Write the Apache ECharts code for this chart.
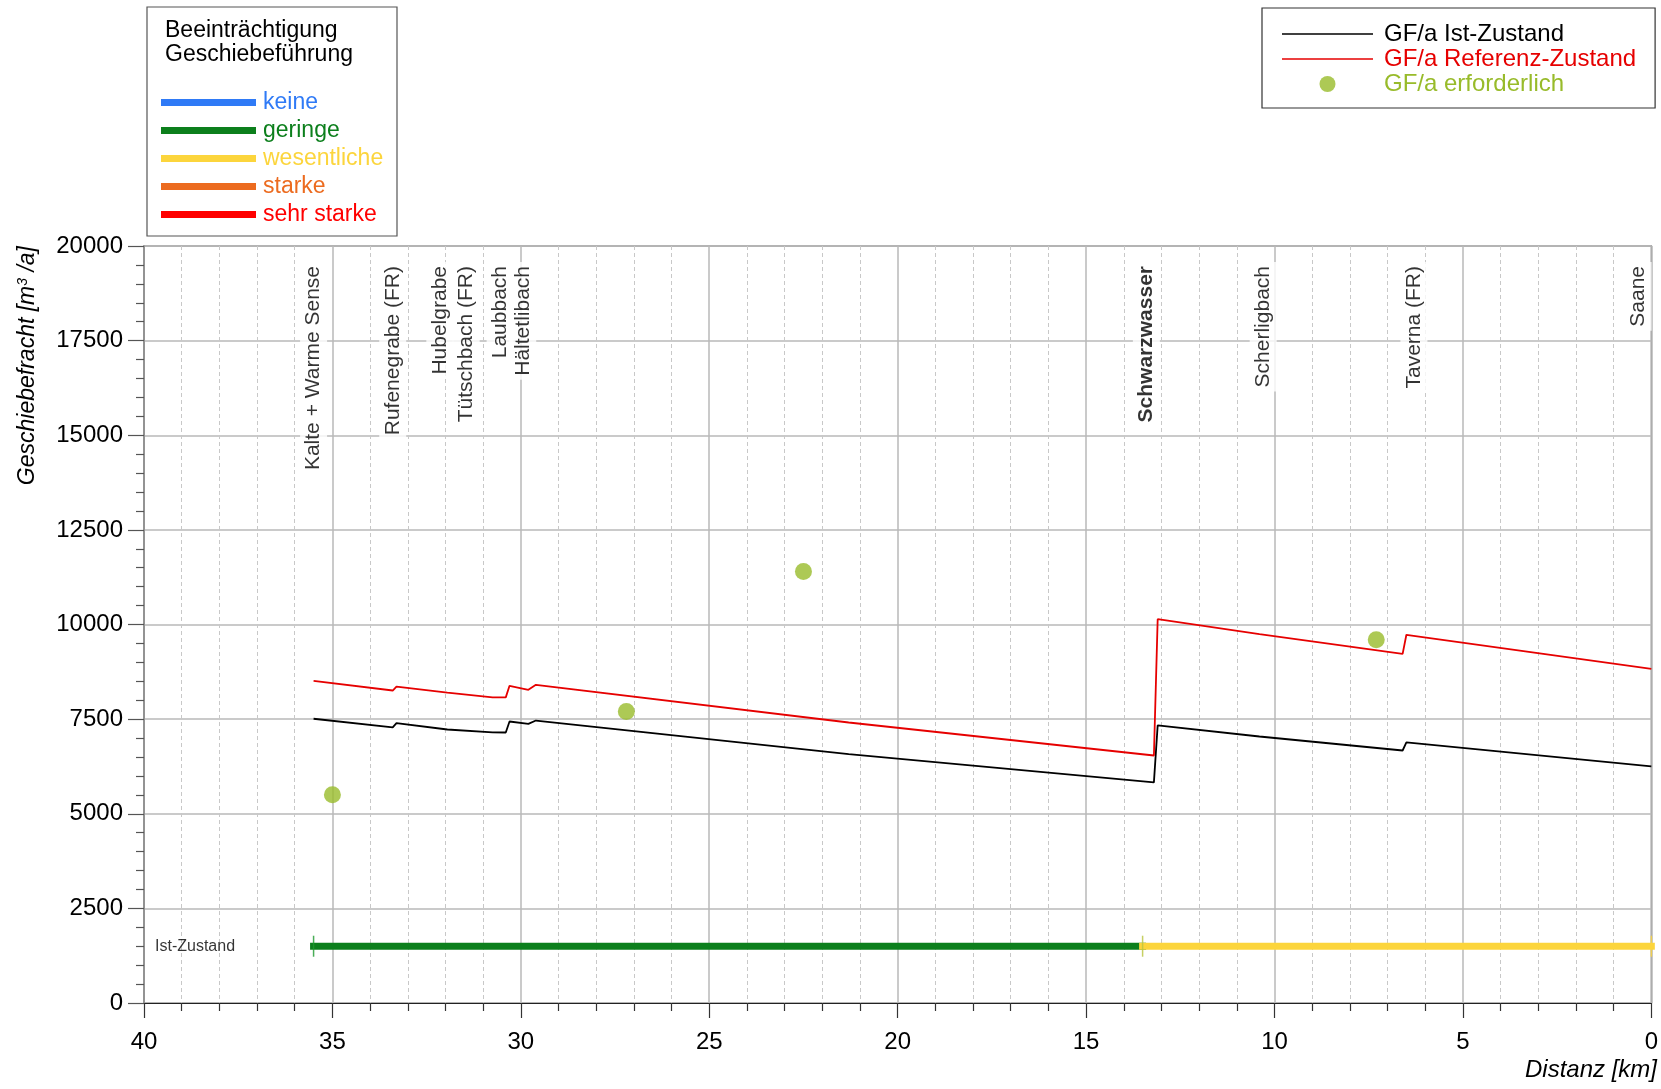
<!DOCTYPE html>
<html>
<head>
<meta charset="utf-8">
<script src="https://cdn.jsdelivr.net/npm/echarts@6/dist/echarts.min.js"></script>
<style>
  html, body { margin: 0; padding: 0; background: #fff; }
  #chart { width: 1661px; height: 1089px; }
</style>
</head>
<body>
<div id="chart"></div>
<script>
// Längsprofil Sense: Geschiebefracht pro Jahr entlang der Fliessdistanz
const FONT = '"Liberation Sans", Arial, Helvetica, sans-serif';

// Stützstellen des Profils (Distanz in km ab Mündung)
const profileKm = [35.5, 33.4, 33.3, 31.95, 31.9, 30.75, 30.7, 30.4, 30.3, 29.8, 29.6, 21.3, 13.2, 13.1, 10.4, 10.35, 6.6, 6.5, 0];
// GF/a Ist-Zustand [m3/a]
const istValues = [7510, 7280, 7395, 7226, 7263, 7150, 7183, 7146, 7437, 7376, 7463, 6576, 5830, 7335, 7041, 7070, 6671, 6883, 6250];
// GF/a Referenz-Zustand [m3/a]
const refValues = [8512, 8256, 8361, 8200, 8215, 8075, 8100, 8075, 8380, 8274, 8406, 7411, 6539, 10141, 9745, 9772, 9225, 9728, 8830];

// GF/a erforderlich
const reqKm = [35.0, 27.2, 22.5, 7.3];
const reqValues = [5500, 7700, 11400, 9600];

// Zuflüsse (Beschriftung oben)
const tributaryNames = ['Kalte + Warme Sense', 'Rufenegrabe (FR)', 'Hubelgrabe', 'Tütschbach (FR)', 'Laubbach', 'Hältetlibach', 'Schwarzwasser', 'Scherligbach', 'Taverna (FR)', 'Saane'];
const tributaryKm = [35.5, 33.4, 32.15, 31.45, 30.55, 29.95, 13.4, 10.3, 6.3, 0.35];
const mainTributary = 'Schwarzwasser';

// Beeinträchtigung Geschiebeführung, Ist-Zustand (Abschnitte)
const classNames = ['keine', 'geringe', 'wesentliche', 'starke', 'sehr starke'];
const classColors = ['#2f7af6', '#0c7f1c', '#fcd53c', '#ec6b1f', '#ff0000'];
const sectionFromKm = [35.5, 13.5];
const sectionToKm = [13.5, 0];
const sectionClass = ['geringe', 'wesentliche'];
const sectionBoundaryKm = [35.5, 13.5, 0];
const sectionBoundaryColors = ['#1d9a2e', '#b9c43c', '#fcd53c'];
const conditionRowValue = 1500;
const conditionRowLabel = 'Ist-Zustand';

// Achsen
const xMin = 0, xMax = 40, xStep = 5;
const yMin = 0, yMax = 20000, yStep = 2500;

const pairs = (xs, ys) => xs.map((x, i) => [x, ys[i]]);

// dünner Strich als Legendensymbol (Seitenverhältnis bleibt erhalten)
const LINE_ICON = 'path://M0,0H91V1.6H0Z';

const chart = echarts.init(document.getElementById('chart'), null, { renderer: 'canvas' });

const series = [];

// Klassen der Beeinträchtigung (auch für die Legende)
classNames.forEach((name, ci) => {
  const idx = sectionClass.indexOf(name);
  const data = idx >= 0 ? [[sectionFromKm[idx], conditionRowValue], [sectionToKm[idx], conditionRowValue]] : [];
  series.push({
    name: name,
    type: 'line',
    data: data,
    symbol: 'none',
    z: 3,
    lineStyle: { color: classColors[ci], width: 7, cap: 'square' },
    itemStyle: { color: classColors[ci] },
    silent: true
  });
});

// Abschnittsgrenzen
series.push({
  name: 'Abschnittsgrenzen',
  type: 'scatter',
  symbol: 'rect',
  symbolSize: [1.5, 21],
  z: 4,
  silent: true,
  data: sectionBoundaryKm.map((km, i) => ({ value: [km, conditionRowValue], itemStyle: { color: sectionBoundaryColors[i] } }))
});

// Zeilenbeschriftung "Ist-Zustand"
series.push({
  name: 'Zeile',
  type: 'scatter',
  symbolSize: 0,
  silent: true,
  data: [[xMax, conditionRowValue]],
  label: {
    show: true,
    position: 'right',
    distance: 11,
    formatter: conditionRowLabel,
    color: '#000',
    fontFamily: FONT,
    fontSize: 16
  }
});

series.push({
  name: 'GF/a Ist-Zustand',
  type: 'line',
  data: pairs(profileKm, istValues),
  symbol: 'none',
  z: 5,
  lineStyle: { color: '#000', width: 1.8 },
  itemStyle: { color: '#000' },
  silent: true
});
series.push({
  name: 'GF/a Referenz-Zustand',
  type: 'line',
  data: pairs(profileKm, refValues),
  symbol: 'none',
  z: 5,
  lineStyle: { color: '#e60000', width: 1.8 },
  itemStyle: { color: '#e60000' },
  silent: true
});
series.push({
  name: 'GF/a erforderlich',
  type: 'scatter',
  data: pairs(reqKm, reqValues),
  symbol: 'circle',
  symbolSize: 17,
  z: 6,
  itemStyle: { color: '#98bb2a' },
  silent: true
});

// Zuflussnamen, senkrecht am oberen Rand
series.push({
  name: 'Zuflüsse',
  type: 'scatter',
  symbolSize: 0,
  silent: true,
  z: 7,
  data: tributaryNames.map((n, i) => ({
    name: n,
    value: [tributaryKm[i], yMax],
    label: { fontWeight: n === mainTributary ? 'bold' : 'normal' }
  })),
  label: {
    show: true,
    position: [0, 16],
    rotate: 90,
    align: 'right',
    verticalAlign: 'middle',
    formatter: p => p.name,
    color: '#000',
    fontFamily: FONT,
    fontSize: 21,
    lineHeight: 21,
    backgroundColor: '#fff',
    padding: [3, 4]
  }
});

const option = {
  backgroundColor: '#fff',
  animation: false,
  textStyle: { fontFamily: FONT },
  grid: {
    left: 144, right: 7, top: 246, bottom: 86,
    show: true,
    borderColor: '#8c8c8c',
    borderWidth: 1.5,
    backgroundColor: 'transparent'
  },
  xAxis: {
    type: 'value',
    min: xMin, max: xMax, interval: xStep,
    inverse: true,
    axisLine: { show: true, onZero: false, lineStyle: { color: '#222', width: 1.2 } },
    axisTick: { show: true, length: 15, lineStyle: { color: '#333', width: 1.2 } },
    minorTick: { show: true, splitNumber: 5, length: 8, lineStyle: { color: '#333', width: 1.2 } },
    axisLabel: { color: '#000', fontSize: 24, margin: 27, fontFamily: FONT, formatter: v => String(v) },
    splitLine: { show: true, lineStyle: { color: '#b8b8b8', width: 1.5 } },
    minorSplitLine: { show: true, lineStyle: { color: '#c8c8c8', width: 1, type: [4, 3] } }
  },
  yAxis: {
    type: 'value',
    min: yMin, max: yMax, interval: yStep,
    position: 'left',
    axisLine: { show: true, onZero: false, lineStyle: { color: '#888', width: 1.5 } },
    axisTick: { show: true, length: 16, lineStyle: { color: '#555', width: 1.2 } },
    minorTick: { show: true, splitNumber: 5, length: 8, lineStyle: { color: '#555', width: 1.2 } },
    axisLabel: { color: '#000', fontSize: 24, margin: 21, fontFamily: FONT, formatter: v => String(v) },
    splitLine: { show: true, lineStyle: { color: '#b8b8b8', width: 1.5 } },
    minorSplitLine: { show: false }
  },
  legend: [
    {
      left: 161, top: 91,
      orient: 'vertical',
      selectedMode: false,
      icon: 'rect',
      itemWidth: 95, itemHeight: 7,
      itemGap: 5,
      padding: 0,
      textStyle: { fontSize: 23, lineHeight: 23, fontFamily: FONT, padding: [0, 0, 0, 2] },
      data: classNames.map((n, i) => ({ name: n, textStyle: { color: classColors[i] } }))
    },
    {
      left: 1262, top: 8,
      orient: 'vertical',
      selectedMode: false,
      itemWidth: 91, itemHeight: 16,
      itemGap: 1,
      padding: [14, 19, 12, 20],
      borderColor: '#333', borderWidth: 1.2,
      backgroundColor: '#fff',
      textStyle: { fontSize: 24, lineHeight: 24, fontFamily: FONT, padding: [0, 0, 0, 6] },
      data: [
        { name: 'GF/a Ist-Zustand', icon: LINE_ICON, textStyle: { color: '#000' } },
        { name: 'GF/a Referenz-Zustand', icon: LINE_ICON, textStyle: { color: '#e60000' } },
        { name: 'GF/a erforderlich', icon: 'circle', textStyle: { color: '#98bb2a' } }
      ]
    }
  ],
  graphic: [
    {
      type: 'rect',
      shape: { x: 147, y: 7, width: 250, height: 229 },
      style: { fill: 'none', stroke: '#555', lineWidth: 1.2 },
      z: -1
    },
    {
      type: 'text',
      x: 165, y: 19,
      style: {
        text: 'Beeinträchtigung\nGeschiebeführung',
        font: '23px ' + FONT,
        lineHeight: 23.5,
        fill: '#000',
        verticalAlign: 'top'
      }
    },
    {
      type: 'text',
      x: 28, y: 246,
      rotation: Math.PI / 2,
      style: {
        text: '{a|Geschiebefracht [m}{s|3}{a| /a]}',
        rich: {
          a: { font: 'italic 23px ' + FONT, fill: '#000', lineHeight: 24 },
          s: { font: 'italic 14px ' + FONT, fill: '#000', verticalAlign: 'top', lineHeight: 24 }
        },
        align: 'right',
        verticalAlign: 'middle'
      }
    },
    {
      type: 'text',
      right: 4, top: 1058,
      style: {
        text: 'Distanz [km]',
        font: 'italic 24px ' + FONT,
        fill: '#000'
      }
    }
  ],
  series: series
};

chart.setOption(option);
</script>
</body>
</html>
